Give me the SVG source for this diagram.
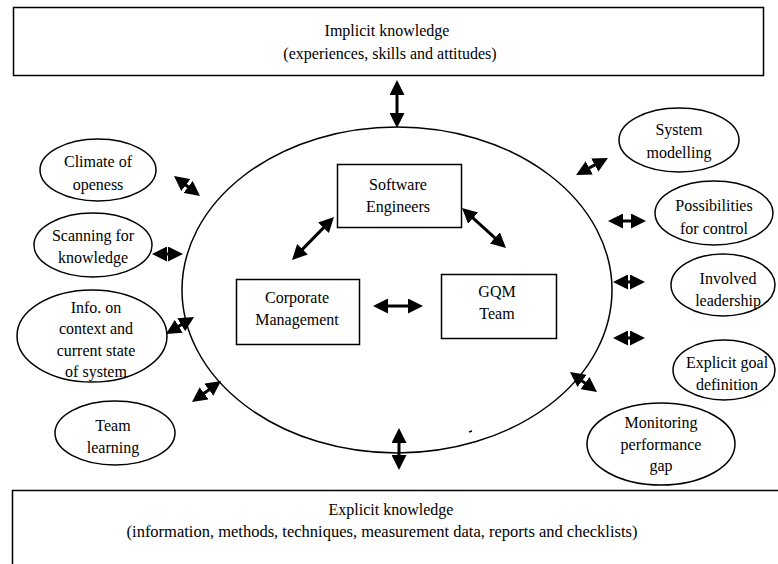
<svg xmlns="http://www.w3.org/2000/svg" width="778" height="564" viewBox="0 0 778 564" font-family="'Liberation Serif', 'DejaVu Serif', serif">
<style>
text{font-family:'Liberation Serif','DejaVu Serif',serif;font-size:16px;fill:#000;text-anchor:middle}
.box{fill:#fff;stroke:#000;stroke-width:1.5}
.ell{fill:#fff;stroke:#000;stroke-width:1.5}
.arr{stroke:#000;stroke-width:3;fill:none;marker-start:url(#ah);marker-end:url(#ah)}
</style>
<defs>
<marker id="ah" viewBox="0 0 10 10" refX="2" refY="5" markerWidth="5" markerHeight="5" orient="auto-start-reverse" markerUnits="strokeWidth">
<path d="M0,0 L10,5 L0,10 z" fill="#000"/>
</marker>
</defs>
<rect width="778" height="564" fill="#fff"/>
<g id="implicit">
<rect class="box" x="13.5" y="7.5" width="750" height="68"/>
<text x="387" y="36">Implicit knowledge</text>
<text x="390" y="59">(experiences, skills and attitudes)</text>
</g>
<g id="explicit">
<rect class="box" x="12.5" y="490.5" width="780" height="100"/>
<text x="391" y="515">Explicit knowledge</text>
<text x="382" y="537" style="font-size:16.5px">(information, methods, techniques, measurement data, reports and checklists)</text>
</g>
<g id="organisation">
<ellipse class="ell" cx="397" cy="290" rx="215" ry="163"/>
</g>
<g id="software-engineers">
<rect class="box" x="337.5" y="164.5" width="124" height="63"/>
<text x="398" y="190">Software</text>
<text x="398" y="212">Engineers</text>
</g>
<g id="corporate-management">
<rect class="box" x="236.5" y="279.5" width="123" height="65"/>
<text x="297" y="303">Corporate</text>
<text x="297" y="325">Management</text>
</g>
<g id="gqm-team">
<rect class="box" x="441.5" y="274.5" width="115" height="64"/>
<text x="497" y="297">GQM</text>
<text x="497" y="319">Team</text>
</g>
<g id="climate">
<ellipse class="ell" cx="98" cy="170" rx="58" ry="31"/>
<text x="98" y="167">Climate of</text>
<text x="98" y="190">openess</text>
</g>
<g id="scanning">
<ellipse class="ell" cx="93" cy="245" rx="59" ry="32"/>
<text x="93" y="241">Scanning for</text>
<text x="93" y="263">knowledge</text>
</g>
<g id="info">
<ellipse class="ell" cx="92" cy="336" rx="75" ry="46"/>
<text x="96" y="313">Info. on</text>
<text x="96" y="334">context and</text>
<text x="96" y="356">current state</text>
<text x="96" y="377">of system</text>
</g>
<g id="team-learning">
<ellipse class="ell" cx="115" cy="433" rx="60" ry="32"/>
<text x="113" y="431">Team</text>
<text x="113" y="453">learning</text>
</g>
<g id="system-modelling">
<ellipse class="ell" cx="679" cy="140" rx="60" ry="32"/>
<text x="679" y="135">System</text>
<text x="679" y="158">modelling</text>
</g>
<g id="possibilities">
<ellipse class="ell" cx="714" cy="213" rx="59" ry="32"/>
<text x="714" y="211">Possibilities</text>
<text x="714" y="234">for control</text>
</g>
<g id="involved">
<ellipse class="ell" cx="723" cy="285" rx="52" ry="31"/>
<text x="728" y="284">Involved</text>
<text x="728" y="306">leadership</text>
</g>
<g id="explicit-goal">
<ellipse class="ell" cx="724" cy="370" rx="51" ry="30"/>
<text x="727" y="368">Explicit goal</text>
<text x="727" y="390">definition</text>
</g>
<g id="monitoring">
<ellipse class="ell" cx="661" cy="444" rx="74" ry="41"/>
<text x="661" y="428">Monitoring</text>
<text x="661" y="450">performance</text>
<text x="661" y="471">gap</text>
</g>
<g id="connectors">
<line class="arr" x1="397" y1="92" x2="397" y2="116"/>
<line class="arr" x1="399" y1="440" x2="399" y2="458"/>
<line class="arr" x1="300.4" y1="251.4" x2="325.6" y2="225.6"/>
<line class="arr" x1="470.9" y1="216.1" x2="497.1" y2="239.9"/>
<line class="arr" x1="385" y1="306" x2="411" y2="306"/>
<line class="arr" x1="183.5" y1="183.3" x2="190.5" y2="188.7"/>
<line class="arr" x1="164" y1="254" x2="171" y2="254"/>
<line class="arr" x1="176.2" y1="327.8" x2="183.8" y2="323.2"/>
<line class="arr" x1="201.7" y1="395" x2="211.3" y2="388"/>
<line class="arr" x1="586.6" y1="169.4" x2="597.4" y2="163.6"/>
<line class="arr" x1="620" y1="221" x2="634" y2="221"/>
<line class="arr" x1="625" y1="282" x2="633" y2="282"/>
<line class="arr" x1="625" y1="338" x2="633" y2="338"/>
<line class="arr" x1="579.6" y1="379.1" x2="587.4" y2="384.9"/>
</g>
<path d="M469,432 L472,431" stroke="#000" stroke-width="1.5"/>
</svg>
